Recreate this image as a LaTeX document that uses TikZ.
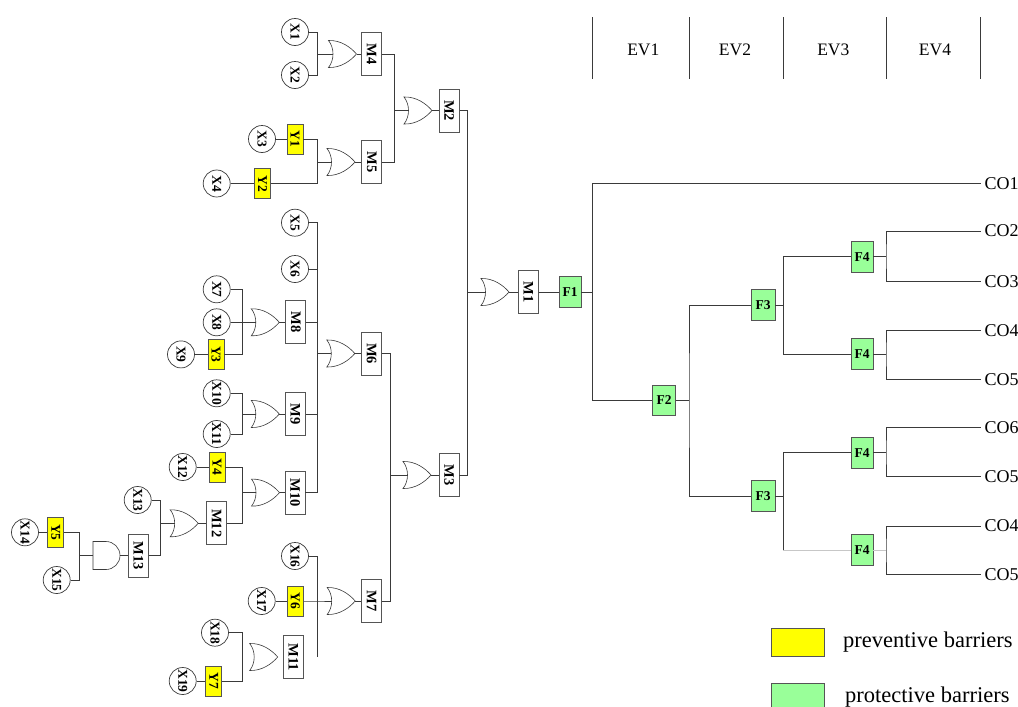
\documentclass[tikz,border=0pt]{standalone}
\usepackage{fontspec}
\setmainfont{Liberation Serif}
\usetikzlibrary{calc}
\definecolor{wirec}{HTML}{3A3A3A}
\definecolor{boxc}{HTML}{555555}
\definecolor{pyellow}{HTML}{FFFF00}
\definecolor{pgreen}{HTML}{99FF99}
\newcommand\vlab[1]{\rotatebox{-90}{#1}}
\tikzset{
  wire/.style={draw=wirec, line width=0.8pt},
  faint/.style={draw=black!22, line width=0.8pt},
  gateline/.style={draw=wirec, line width=0.6pt, fill=white},
  bevent/.style={circle, draw=wirec, line width=0.7pt, fill=white, minimum size=27pt, inner sep=0pt, font=\bfseries\fontsize{13.5}{13.5}\selectfont},
  mbox/.style={rectangle, draw=boxc, line width=0.7pt, fill=white, minimum width=20pt, minimum height=43pt, inner sep=0pt, font=\bfseries\fontsize{14.5}{14.5}\selectfont},
  ybox/.style={rectangle, draw=boxc, line width=0.7pt, fill=pyellow, minimum width=16pt, minimum height=30pt, inner sep=0pt, font=\bfseries\fontsize{13.5}{13.5}\selectfont},
  fnode/.style={rectangle, draw=boxc, line width=0.7pt, fill=pgreen, minimum width=22pt, minimum height=31pt, inner sep=0pt, font=\bfseries\fontsize{13.5}{13.5}\selectfont},
  colab/.style={anchor=west, inner xsep=4pt, inner ysep=0pt, font=\fontsize{18}{18}\selectfont},
  evlab/.style={inner sep=0pt, font=\fontsize{17.5}{17.5}\selectfont},
  hdr/.style={draw=wirec, line width=0.8pt},
  leglab/.style={anchor=west, inner sep=0pt, font=\fontsize{22.5}{22.5}\selectfont},
  legbox/.style={draw=boxc, line width=0.7pt, minimum width=53pt, minimum height=28pt, inner sep=0pt},
  orgate/.pic={
    \draw[gateline] (-14,-13.5) .. controls (-2,-14) and (8,-7) .. (14,0)
      .. controls (8,7) and (-2,14) .. (-14,13.5)
      .. controls (-8,6) and (-8,-6) .. cycle;
    \coordinate (-in) at (-9.5,0);
    \coordinate (-out) at (14,0);
  },
  andgate/.pic={
    \draw[gateline] (-13,-14) -- (0,-14) .. controls (7.7,-14) and (14,-7.7) .. (14,0)
      .. controls (14,7.7) and (7.7,14) .. (0,14) -- (-13,14) -- cycle;
    \coordinate (-in) at (-13,0);
    \coordinate (-out) at (14,0);
  },
}
\begin{document}
\begin{tikzpicture}[x=1pt,y=-1pt]
\useasboundingbox (0,0) rectangle (1018,707);

% ---------- gates ----------
\pic (gM4) at (342.5,54) {orgate};
\pic (gM5) at (341,162) {orgate};
\pic (gM2) at (418,110.5) {orgate};
\pic (gM8) at (265.3,322.3) {orgate};
\pic (gM6) at (340.8,353.5) {orgate};
\pic (gM9) at (265.3,414) {orgate};
\pic (gM10) at (265.5,492.6) {orgate};
\pic (gM12) at (184.2,523.3) {orgate};
\pic (gM13) at (106,555.5) {andgate};
\pic (gM7) at (341.2,601) {orgate};
\pic (gM11) at (263.7,657) {orgate};
\pic (gM3) at (417,475) {orgate};
\pic (gM1) at (495,292) {orgate};

% ---------- basic events ----------
\node[bevent] (X1) at (295,32) {\vlab{X1}};
\node[bevent] (X2) at (295,75) {\vlab{X2}};
\node[bevent] (X3) at (262,139) {\vlab{X3}};
\node[bevent] (X4) at (216.7,183.5) {\vlab{X4}};
\node[bevent] (X5) at (295,222.7) {\vlab{X5}};
\node[bevent] (X6) at (295,269) {\vlab{X6}};
\node[bevent] (X7) at (216.7,289.3) {\vlab{X7}};
\node[bevent] (X8) at (216.7,322.3) {\vlab{X8}};
\node[bevent] (X9) at (181,354.4) {\vlab{X9}};
\node[bevent] (X10) at (216.7,393.3) {\vlab{X10}};
\node[bevent] (X11) at (216.7,434) {\vlab{X11}};
\node[bevent] (X12) at (182.7,467) {\vlab{X12}};
\node[bevent] (X13) at (137.7,500) {\vlab{X13}};
\node[bevent] (X14) at (25,532.3) {\vlab{X14}};
\node[bevent] (X15) at (56.7,580) {\vlab{X15}};
\node[bevent] (X16) at (295,556) {\vlab{X16}};
\node[bevent] (X17) at (261.7,601) {\vlab{X17}};
\node[bevent] (X18) at (215,632.7) {\vlab{X18}};
\node[bevent] (X19) at (182.7,681) {\vlab{X19}};

% ---------- preventive barriers ----------
\node[ybox] (Y1) at (295,139) {\vlab{Y1}};
\node[ybox] (Y2) at (262.5,183.5) {\vlab{Y2}};
\node[ybox] (Y3) at (216,354.4) {\vlab{Y3}};
\node[ybox] (Y4) at (217,467) {\vlab{Y4}};
\node[ybox] (Y5) at (55.8,532.3) {\vlab{Y5}};
\node[ybox] (Y6) at (295.3,601) {\vlab{Y6}};
\node[ybox] (Y7) at (213.7,681) {\vlab{Y7}};

% ---------- intermediate events ----------
\node[mbox] (M1) at (528.3,292) {\vlab{M1}};
\node[mbox] (M2) at (449.2,110.5) {\vlab{M2}};
\node[mbox] (M3) at (449,475) {\vlab{M3}};
\node[mbox] (M4) at (371.7,54) {\vlab{M4}};
\node[mbox] (M5) at (371.7,162) {\vlab{M5}};
\node[mbox] (M6) at (371.7,353.5) {\vlab{M6}};
\node[mbox] (M7) at (371.7,601) {\vlab{M7}};
\node[mbox] (M8) at (295.8,322.3) {\vlab{M8}};
\node[mbox] (M9) at (295.4,414) {\vlab{M9}};
\node[mbox] (M10) at (295,492.6) {\vlab{M10}};
\node[mbox] (M11) at (293.3,657) {\vlab{M11}};
\node[mbox] (M12) at (216.7,523.3) {\vlab{M12}};
\node[mbox] (M13) at (138.3,555.5) {\vlab{M13}};

% ---------- bus coordinates ----------
\coordinate (bM4) at (317.7,54);
\coordinate (bM5) at (317.7,162);
\coordinate (bM2) at (394,110.5);
\coordinate (bM8) at (242.3,322.3);
\coordinate (bM9) at (242.3,414);
\coordinate (bM10) at (242.3,492.6);
\coordinate (bM12) at (160.7,523.3);
\coordinate (bM13) at (79.3,555.5);
\coordinate (bM6) at (317.3,353.5);
\coordinate (bM7) at (317.3,601);
\coordinate (tM7) at (317.3,656.7);
\coordinate (bM11) at (242.3,657);
\coordinate (bM3) at (390,475);
\coordinate (bM1) at (467.3,292);

% ---------- fault tree wires ----------
\draw[wire] (X1.east) -| (bM4);
\draw[wire] (X2.east) -| (bM4) -- (gM4-in);
\draw[wire] (gM4-out) -- (M4.west);

\draw[wire] (X3.east) -- (Y1.west);
\draw[wire] (X4.east) -- (Y2.west);
\draw[wire] (Y1.east) -| (bM5);
\draw[wire] (Y2.east) -| (bM5) -- (gM5-in);
\draw[wire] (gM5-out) -- (M5.west);

\draw[wire] (M4.east) -| (bM2);
\draw[wire] (M5.east) -| (bM2) -- (gM2-in);
\draw[wire] (gM2-out) -- (M2.west);

\draw[wire] (X9.east) -- (Y3.west);
\draw[wire] (X7.east) -| (bM8);
\draw[wire] (Y3.east) -| (bM8);
\draw[wire] (X8.east) -- (bM8) -- (gM8-in);
\draw[wire] (gM8-out) -- (M8.west);

\draw[wire] (X10.east) -| (bM9);
\draw[wire] (X11.east) -| (bM9) -- (gM9-in);
\draw[wire] (gM9-out) -- (M9.west);

\draw[wire] (X12.east) -- (Y4.west);
\draw[wire] (Y4.east) -| (bM10);
\draw[wire] (M12.east) -| (bM10) -- (gM10-in);
\draw[wire] (gM10-out) -- (M10.west);

\draw[wire] (X13.east) -| (bM12);
\draw[wire] (M13.east) -| (bM12) -- (gM12-in);
\draw[wire] (gM12-out) -- (M12.west);

\draw[wire] (X14.east) -- (Y5.west);
\draw[wire] (Y5.east) -| (bM13);
\draw[wire] (X15.east) -| (bM13) -- (gM13-in);
\draw[wire] (gM13-out) -- (M13.west);

\draw[wire] (X5.east) -| (bM6);
\draw[wire] (X6.east) -| (bM6);
\draw[wire] (M8.east) -| (bM6);
\draw[wire] (M9.east) -| (bM6);
\draw[wire] (M10.east) -| (bM6) -- (gM6-in);
\draw[wire] (gM6-out) -- (M6.west);

\draw[wire] (X17.east) -- (Y6.west);
\draw[wire] (X16.east) -| (bM7);
\draw[wire] (Y6.east) -- (bM7) -- (gM7-in);
\draw[wire] (bM7) -- (tM7);
\draw[wire] (gM7-out) -- (M7.west);

\draw[wire] (X19.east) -- (Y7.west);
\draw[wire] (X18.east) -| (bM11);
\draw[wire] (Y7.east) -| (bM11);

\draw[wire] (M6.east) -| (bM3);
\draw[wire] (M7.east) -| (bM3) -- (gM3-in);
\draw[wire] (gM3-out) -- (M3.west);

\draw[wire] (M2.east) -| (bM1);
\draw[wire] (M3.east) -| (bM1) -- (gM1-in);
\draw[wire] (gM1-out) -- (M1.west);

% ---------- event tree ----------
\node[fnode] (F1) at (570,292) {F1};
\node[fnode, minimum width=23pt, minimum height=30pt] (F2) at (664,400) {F2};
\node[fnode, minimum width=24pt] (F3a) at (763,305) {F3};
\node[fnode, minimum width=24pt] (F3b) at (763,496.3) {F3};
\node[fnode] (F4a) at (862,256.7) {F4};
\node[fnode] (F4b) at (862,354.2) {F4};
\node[fnode] (F4c) at (862,452.8) {F4};
\node[fnode] (F4d) at (862,550.3) {F4};

\node[colab] (CO1) at (980.5,183.3) {CO1};
\node[colab] (CO2) at (980.5,231) {CO2};
\node[colab] (CO3) at (980.5,281.7) {CO3};
\node[colab] (CO4a) at (980.5,330.7) {CO4};
\node[colab] (CO5a) at (980.5,379.3) {CO5};
\node[colab] (CO6) at (980.5,427.7) {CO6};
\node[colab] (CO5b) at (980.5,476.7) {CO5};
\node[colab] (CO4b) at (980.5,526) {CO4};
\node[colab] (CO5c) at (980.5,574.3) {CO5};

\coordinate (e0) at (592.7,292);
\coordinate (e1) at (689,400);
\coordinate (e2) at (783.3,305);
\coordinate (e5) at (783.3,496.3);
\coordinate (c5) at (783.3,550.3);
\coordinate (e3) at (886,256.7);
\coordinate (e4) at (886,354.2);
\coordinate (e6) at (886,452.8);
\coordinate (e7) at (886,550.3);

\draw[wire] (M1.east) -- (F1.west);
\draw[wire] (F1.east) -- (e0);
\draw[wire] (CO1.west) -| (e0) |- (F2.west);
\draw[wire] (F2.east) -- (e1);
\draw[wire] (F3a.west) -| (e1) |- (F3b.west);
\draw[wire] (F3a.east) -- (e2);
\draw[wire] (F4a.west) -| (e2) |- (F4b.west);
\draw[wire] (F3b.east) -- (e5);
\draw[wire] (F4c.west) -| (e5) -- (c5);
\draw[faint] (c5) -- (F4d.west);
\draw[wire] (F4a.east) -- (e3);
\draw[wire] (CO2.west) -| (e3) |- (CO3.west);
\draw[wire] (F4b.east) -- (e4);
\draw[wire] (CO4a.west) -| (e4) |- (CO5a.west);
\draw[wire] (F4c.east) -- (e6);
\draw[wire] (CO6.west) -| (e6) |- (CO5b.west);
\draw[faint] (F4d.east) -- (e7);
\draw[wire] (CO4b.west) -| (e7) |- (CO5c.west);

% ---------- header ----------
\foreach \hx in {592.7,689,783.3,886,980.7}
  \draw[hdr] (\hx,17) -- (\hx,79);
\node[evlab] (EV1) at (643.3,50) {EV1};
\node[evlab] (EV2) at (735,50) {EV2};
\node[evlab] (EV3) at (833.3,50) {EV3};
\node[evlab] (EV4) at (935,50) {EV4};

% ---------- legend ----------
\node[legbox, fill=pyellow] (LY) at (797.5,642) {};
\node[leglab] (LYt) at (843,642) {preventive barriers};
\node[legbox, fill=pgreen] (LG) at (797.5,697) {};
\node[leglab] (LGt) at (845,697) {protective barriers};
\end{tikzpicture}
\end{document}
